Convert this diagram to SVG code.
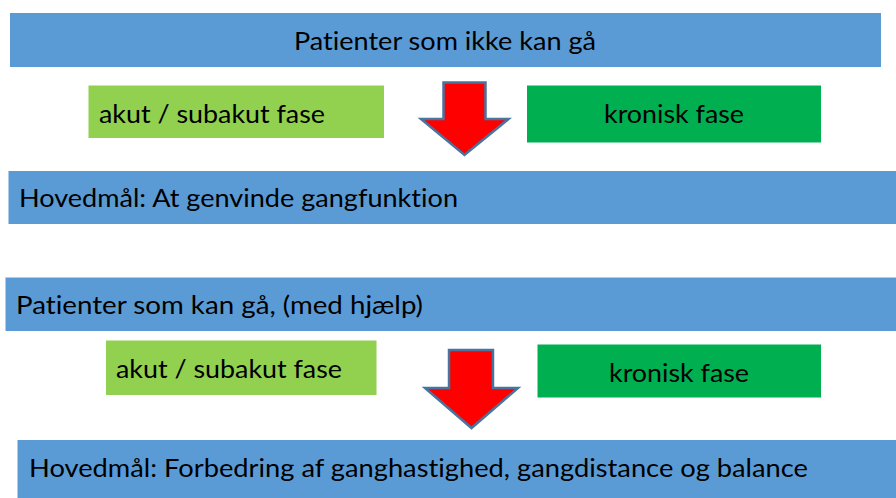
<svg xmlns="http://www.w3.org/2000/svg" width="896" height="498" viewBox="0 0 896 498">
<style>
.bar{fill:#5b9bd5}
.lg{fill:#92d050}
.dg{fill:#00b050}
.t{font-family:Lato,"Open Sans","Liberation Sans",sans-serif;font-size:25.5px;fill:#000;font-variant-ligatures:none;font-feature-settings:"liga" 0,"clig" 0}
.arr{fill:#ff0000;stroke:#4a74a0;stroke-width:2.5;stroke-linejoin:miter}
</style>
<rect width="896" height="498" fill="#ffffff"/>
<g id="bar1">
<rect class="bar" x="10" y="13" width="871" height="54"/>
<text class="t" x="294" y="50" textLength="302" lengthAdjust="spacingAndGlyphs">Patienter som ikke kan gå</text>
</g>
<g id="akut1">
<rect class="lg" x="88.5" y="85.5" width="295.5" height="52.5"/>
<text class="t" x="99" y="123" textLength="226" lengthAdjust="spacingAndGlyphs">akut / subakut fase</text>
</g>
<g id="kronisk1">
<rect class="dg" x="527" y="85.5" width="294" height="57"/>
<text class="t" x="604" y="122.5" textLength="140" lengthAdjust="spacingAndGlyphs">kronisk fase</text>
</g>
<g id="bar2">
<rect class="bar" x="8.5" y="171" width="887.5" height="53"/>
<text class="t" x="19" y="207" textLength="439" lengthAdjust="spacingAndGlyphs">Hovedmål: At genvinde gangfunktion</text>
</g>
<g id="bar3">
<rect class="bar" x="5.5" y="277.5" width="890.5" height="53.5"/>
<text class="t" x="16" y="314" textLength="407" lengthAdjust="spacingAndGlyphs">Patienter som kan gå, (med hjælp)</text>
</g>
<g id="akut2">
<rect class="lg" x="106" y="340.5" width="270.5" height="54.5"/>
<text class="t" x="116" y="378" textLength="226" lengthAdjust="spacingAndGlyphs">akut / subakut fase</text>
</g>
<g id="kronisk2">
<rect class="dg" x="537.5" y="344.5" width="283.5" height="53"/>
<text class="t" x="609" y="381.5" textLength="140" lengthAdjust="spacingAndGlyphs">kronisk fase</text>
</g>
<g id="bar4">
<rect class="bar" x="17.5" y="440" width="878.5" height="58"/>
<text class="t" x="29" y="476.5" textLength="779" lengthAdjust="spacingAndGlyphs">Hovedmål: Forbedring af ganghastighed, gangdistance og balance</text>
</g>
<g id="connectors">
<polygon class="arr" points="443.5,82.5 485.5,82.5 485.5,119 508.5,119 464.5,155 421,119 443.5,119"/>
<polygon class="arr" points="449,350 493,350 493,388 518,388 471.5,428 425,388 449,388"/>
</g>
</svg>
